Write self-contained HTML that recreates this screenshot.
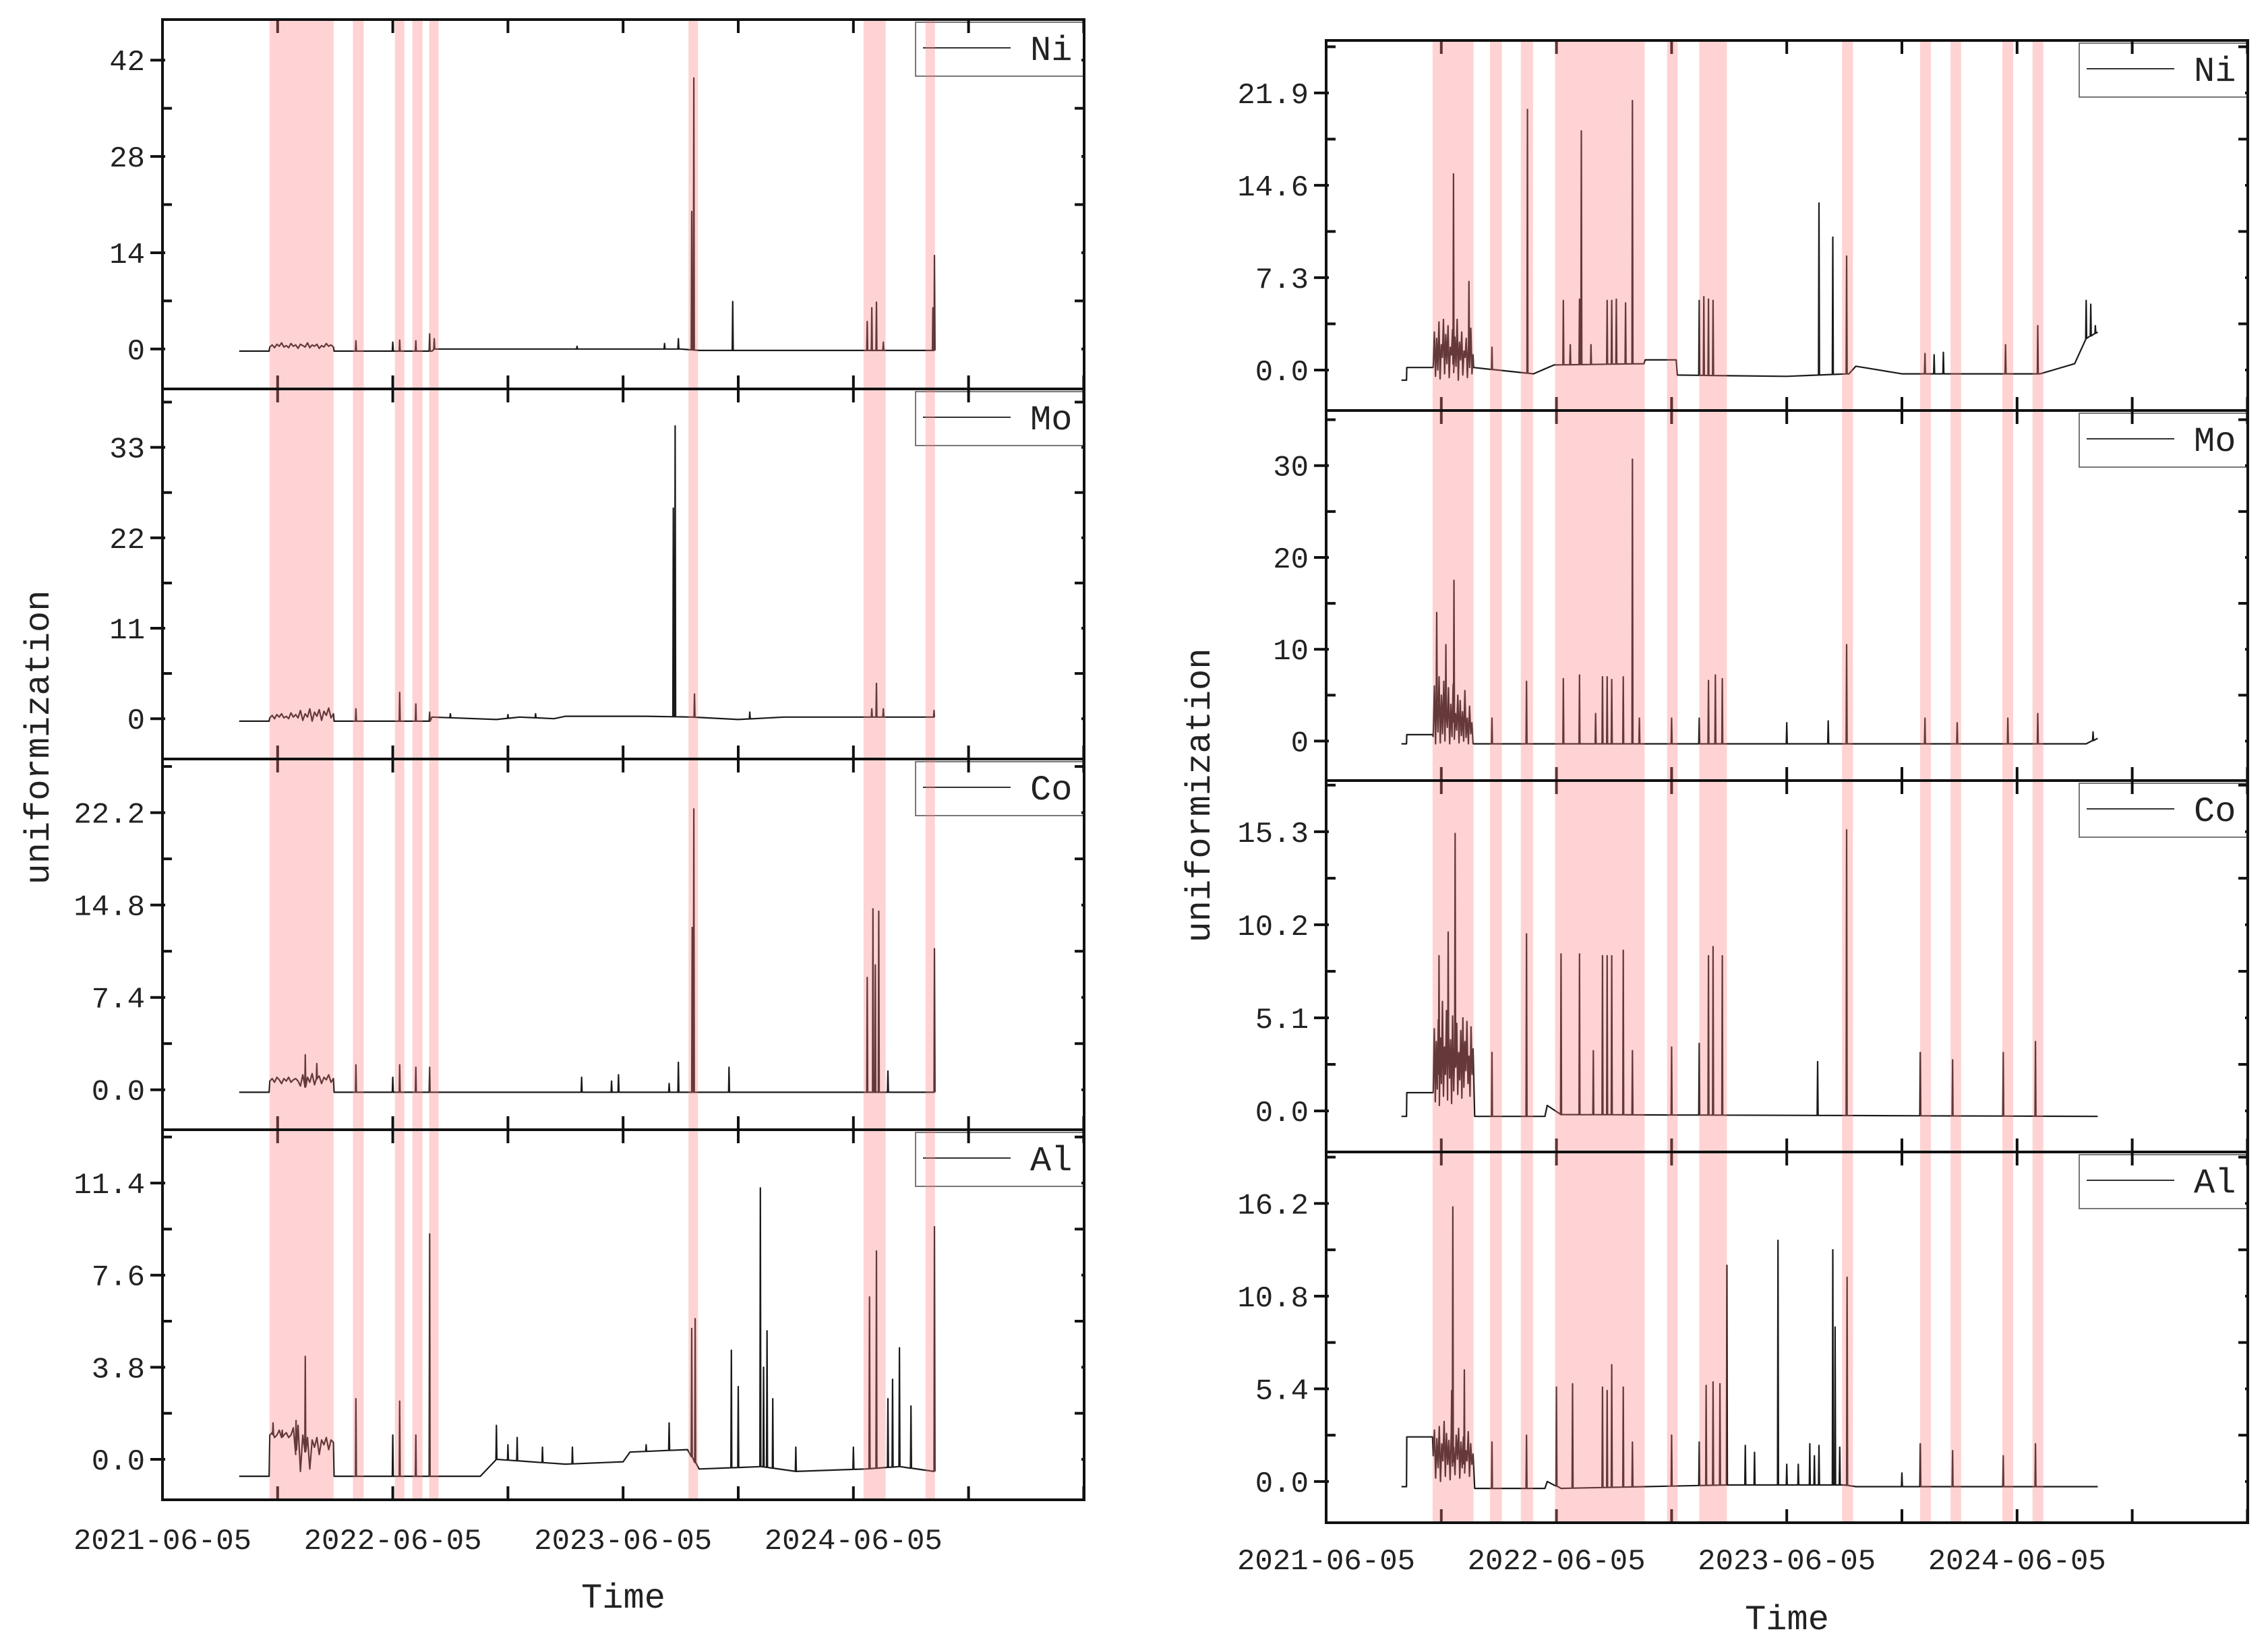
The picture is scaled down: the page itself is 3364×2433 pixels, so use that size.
<!DOCTYPE html>
<html><head><meta charset="utf-8"><style>
html,body{margin:0;padding:0;background:#fff;}
svg{display:block;}
text{font-family:"Liberation Mono","DejaVu Sans Mono",monospace;fill:#222;}
</style></head><body>
<svg id="chart" width="3364" height="2433" viewBox="0 0 3364 2433" xmlns="http://www.w3.org/2000/svg"></svg>
<script>
// ---- data (t = years since 2021-06-05) ----
const xTickLabels = ["2021-06-05","2022-06-05","2023-06-05","2024-06-05"];
const seriesNames = ["Ni","Mo","Co","Al"];
const leftBands = [[0.465,0.743],[0.827,0.874],[1.009,1.050],[1.085,1.129],[1.158,1.199],[2.284,2.325],[3.044,3.140],[3.313,3.354]];
const rightBands = [[0.462,0.640],[0.711,0.763],[0.845,0.898],[0.994,1.383],[1.480,1.526],[1.620,1.740],[2.240,2.287],[2.579,2.626],[2.711,2.757],[2.936,2.983],[3.067,3.114]];

const leftNiTicks = [0,14,28,42];
const leftMoTicks = [0,11,22,33];
const leftCoTicks = ["0.0","7.4","14.8","22.2"];
const leftAlTicks = ["0.0","3.8","7.6","11.4"];
const rightNiTicks = ["0.0","7.3","14.6","21.9"];
const rightMoTicks = [0,10,20,30];
const rightCoTicks = ["0.0","5.1","10.2","15.3"];
const rightAlTicks = ["0.0","5.4","10.8","16.2"];

// noisy stretches: [start, end] and evenly spaced sample values
const leftNoiseRange = [0.466,0.742];
const rightNoiseRange = [0.465,0.638];
const leftNiNoise = [0.3,0.6,0.2,0.7,0.4,0.9,0.3,0.5,0.2,0.8,0.4,0.6,0.1,0.7,0.5,0.3,0.9,0.2,0.6,0.4,0.7,0.1,0.5,0.3,0.8,0.4,0.6,0.3];
const leftMoNoise = [0.1,0.4,0.0,0.5,0.2,0.6,0.1,0.3,0.0,0.7,0.2,0.5,0.1,1.0,-0.2,0.6,0.2,1.2,-0.3,0.8,0.3,1.1,-0.2,0.9,0.4,1.3,0.1,0.6];
const leftCoNoise = [0.7,0.9,0.6,1.0,0.8,0.5,0.9,0.7,1.0,0.6,0.8,0.9,0.7,0.3,1.2,0.2,1.0,0.6,1.3,0.4,0.9,1.1,0.5,1.0,0.8,1.2,0.6,0.9];
const leftAlNoise = [1.0,1.1,0.9,1.0,1.2,0.9,1.0,1.1,0.9,1.0,1.3,0.2,1.4,-0.5,1.0,0.3,0.9,-0.4,0.8,0.5,0.9,0.2,0.8,0.6,0.9,0.4,0.8,0.7];
const rightNiNoise = [0.2,3,-0.5,2.5,0,3.8,-0.7,2,1,4,-0.3,2.8,0.5,3.5,-0.6,1.8,1.2,3.2,-0.2,2.6,0.3,4,-0.8,2.2,0.8,3,-0.4,1.5,1.0,2.5,-0.6,2.0,0.2,3.3,-0.3,1.2];
const rightMoNoise = [0.5,6,-0.3,4.5,1,7,-0.2,5,0.8,6.5,0,3.5,1.5,5.8,-0.3,4,0.5,6.2,0.2,3,1.2,5,-0.2,4.4,0.6,3.2,0,5.5,0.4,2.5,-0.3,3.8,0.8,2,-0.3];
const rightCoNoise = [1,4.5,0.5,3.8,1.2,5,0.3,4,1.5,6,0.8,3.5,2,5.5,0.6,4.2,1.8,3.9,0.4,5.2,1.1,3.6,2.4,4.8,0.9,3.2,1.7,4.4,0.7,5.1,1.3,3.8,2.2,4.9,1.5,3,0.8,4.6,2,3.4];
const rightAlNoise = [1.5,3,0.2,2.5,0.8,3.2,0,2.2,1.2,3.5,0.3,2.8,1,2.4,0.1,3,0.9,2,0.4,2.7,1.3,3.1,0.2,2.3,0.8,2.6,0.5,1.8,1.2,2.9,0.3,2.2,1,1.6];

const leftNiBase = [[0.333,-0.3],[0.463,-0.3],[0.466,0.4],[0.742,0.4],[0.745,-0.3],[1.17,-0.3],[1.18,0],[2.25,0],[2.33,-0.2],[3.35,-0.2]];
const leftNiSpikes = [[0.84,1.2],[1.0,1.0],[1.03,1.3],[1.1,1.2],[1.16,2.2],[1.18,1.5],[1.8,0.4],[2.18,0.8],[2.24,1.5],[2.298,20],[2.307,39.4],[2.476,6.9],[3.06,4],[3.08,6],[3.10,6.8],[3.13,1],[3.345,6],[3.352,13.6]];

const leftMoBase = [[0.333,-0.3],[0.463,-0.3],[0.466,0.2],[0.742,0.2],[0.745,-0.3],[1.16,-0.3],[1.17,0.2],[1.45,-0.1],[1.55,0.2],[1.7,0],[1.75,0.3],[2.1,0.3],[2.3,0.2],[2.5,-0.1],[2.7,0.2],[3.0,0.2],[3.35,0.2]];
const leftMoSpikes = [[0.84,1.2],[1.03,3.2],[1.1,1.8],[1.16,0.8],[1.25,0.6],[1.5,0.5],[1.62,0.6],[2.218,25.6],[2.226,35.6],[2.31,3],[2.55,0.8],[3.08,1.2],[3.10,4.3],[3.13,1.2],[3.35,1]];

const leftCoBase = [[0.333,-0.2],[0.463,-0.2],[0.466,0.8],[0.742,0.8],[0.745,-0.2],[3.35,-0.2]];
const leftCoSpikes = [[0.62,2.8],[0.67,2.1],[0.84,2],[1.0,1],[1.03,2],[1.1,1.8],[1.16,1.8],[1.82,1],[1.95,0.7],[1.98,1.2],[2.2,0.5],[2.24,2.2],[2.3,13],[2.307,22.5],[2.46,1.8],[3.06,9],[3.085,14.5],[3.095,10],[3.11,14.3],[3.15,1.5],[3.352,11.3]];

const leftAlBase = [[0.333,-0.7],[0.463,-0.7],[0.466,1.0],[0.742,0.7],[0.745,-0.7],[1.38,-0.7],[1.42,-0.3],[1.45,0],[1.6,-0.1],[1.75,-0.2],[2.0,-0.1],[2.03,0.3],[2.28,0.4],[2.33,-0.4],[2.6,-0.3],[2.75,-0.5],[3.05,-0.4],[3.2,-0.3],[3.35,-0.5]];
const leftAlSpikes = [[0.48,1.5],[0.52,1.2],[0.58,1.6],[0.62,4.25],[0.84,2.5],[1.0,1.0],[1.03,2.4],[1.1,1],[1.16,9.3],[1.45,1.4],[1.5,0.6],[1.54,0.9],[1.65,0.5],[1.78,0.5],[2.1,0.6],[2.2,1.5],[2.298,5.4],[2.313,5.8],[2.47,4.5],[2.5,3],[2.596,11.2],[2.61,3.8],[2.625,5.3],[2.65,2.5],[2.75,0.5],[3.0,0.5],[3.07,6.7],[3.1,8.6],[3.15,2.5],[3.17,3.3],[3.2,4.6],[3.25,2.2],[3.352,9.6]];

const rightNiBase = [[0.327,-0.8],[0.349,-0.8],[0.35,0.2],[0.64,0.2],[0.9,-0.3],[0.99,0.4],[1.38,0.5],[1.385,0.8],[1.52,0.8],[1.525,-0.4],[2.0,-0.5],[2.27,-0.3],[2.3,0.3],[2.5,-0.3],[3.1,-0.3],[3.25,0.5],[3.3,2.5],[3.35,3]];
const rightNiSpikes = [[0.553,15.5],[0.62,7],[0.72,1.8],[0.874,20.6],[1.03,5.5],[1.06,2],[1.1,5.6],[1.108,18.9],[1.15,2],[1.22,5.5],[1.24,5.5],[1.26,5.6],[1.3,5.3],[1.33,21.3],[1.62,5.5],[1.64,5.8],[1.66,5.6],[1.68,5.5],[2.14,13.2],[2.2,10.5],[2.26,9],[2.6,1.3],[2.64,1.2],[2.68,1.4],[2.95,2],[3.09,3.5],[3.3,5.5],[3.32,5.2],[3.34,3.5]];

const rightMoBase = [[0.327,-0.3],[0.349,-0.3],[0.35,0.7],[0.462,0.7],[0.465,-0.3],[3.3,-0.3],[3.35,0.3]];
const rightMoSpikes = [[0.48,14],[0.52,10.5],[0.555,17.5],[0.72,2.5],[0.87,6.5],[1.03,6.8],[1.1,7.2],[1.17,3],[1.2,7],[1.22,7],[1.24,6.7],[1.29,7],[1.33,30.7],[1.36,2.5],[1.5,2.5],[1.62,2.5],[1.66,6.6],[1.69,7.2],[1.72,6.8],[2.0,2],[2.18,2.2],[2.26,10.5],[2.6,2.5],[2.74,2],[2.96,2.5],[3.09,3],[3.33,1]];

const rightCoBase = [[0.327,-0.3],[0.349,-0.3],[0.35,1.0],[0.462,1.0],[0.645,-0.3],[0.95,-0.3],[0.96,0.3],[1.02,-0.2],[3.35,-0.3]];
const rightCoSpikes = [[0.49,8.5],[0.53,9.8],[0.56,15.2],[0.72,3.2],[0.87,9.7],[1.02,8.6],[1.1,8.6],[1.16,3.3],[1.2,8.5],[1.22,8.5],[1.24,8.5],[1.29,8.8],[1.33,3.3],[1.5,3.5],[1.62,3.7],[1.66,8.5],[1.68,9],[1.72,8.5],[2.134,2.7],[2.26,15.4],[2.58,3.2],[2.72,2.8],[2.94,3.2],[3.08,3.8]];

const rightAlBase = [[0.327,-0.3],[0.349,-0.3],[0.35,2.6],[0.462,2.6],[0.645,-0.4],[0.95,-0.4],[0.96,0],[1.02,-0.4],[1.74,-0.2],[2.25,-0.2],[2.3,-0.3],[3.35,-0.3]];
const rightAlSpikes = [[0.545,5.3],[0.55,16],[0.6,6.5],[0.72,2.3],[0.87,2.7],[1.0,5.5],[1.07,5.7],[1.2,5.5],[1.22,5.3],[1.24,6.8],[1.29,5.5],[1.33,2.3],[1.5,2.7],[1.62,2.3],[1.65,5.6],[1.68,5.8],[1.71,5.7],[1.74,12.6],[1.82,2.1],[1.86,1.7],[1.962,14.05],[2.0,1],[2.05,1],[2.1,2.2],[2.12,1.5],[2.14,2.1],[2.2,13.5],[2.21,9],[2.23,2],[2.262,11.9],[2.5,0.5],[2.58,2.2],[2.72,1.8],[2.94,1.5],[3.08,2.2]];

// ---- layout ----
const YEAR = 341.6;
const charts = [
  {side:"left", x0:241, x1:1608, tops:[29,577,1126,1676,2225], bands:leftBands, noiseRange:leftNoiseRange,
   labelY:2282, timeY:2367, yLabelX:54, yLabelY:1094,
   panels:[
    {name:"Ni",ymin:-5.8,ymax:47.9,ticks:leftNiTicks,base:leftNiBase,spikes:leftNiSpikes,noise:leftNiNoise},
    {name:"Mo",ymin:-4.9,ymax:40.1,ticks:leftMoTicks,base:leftMoBase,spikes:leftMoSpikes,noise:leftMoNoise},
    {name:"Co",ymin:-3.2,ymax:26.5,ticks:leftCoTicks,base:leftCoBase,spikes:leftCoSpikes,noise:leftCoNoise},
    {name:"Al",ymin:-1.67,ymax:13.6,ticks:leftAlTicks,base:leftAlBase,spikes:leftAlSpikes,noise:leftAlNoise}]},
  {side:"right", x0:1967, x1:3334, tops:[60,609,1158,1709,2259], bands:rightBands, noiseRange:rightNoiseRange,
   labelY:2312, timeY:2399, yLabelX:1776, yLabelY:1180,
   panels:[
    {name:"Ni",ymin:-3.2,ymax:26.05,ticks:rightNiTicks,base:rightNiBase,spikes:rightNiSpikes,noise:rightNiNoise},
    {name:"Mo",ymin:-4.3,ymax:36.0,ticks:rightMoTicks,base:rightMoBase,spikes:rightMoSpikes,noise:rightMoNoise},
    {name:"Co",ymin:-2.25,ymax:18.1,ticks:rightCoTicks,base:rightCoBase,spikes:rightCoSpikes,noise:rightCoNoise},
    {name:"Al",ymin:-2.4,ymax:19.2,ticks:rightAlTicks,base:rightAlBase,spikes:rightAlSpikes,noise:rightAlNoise}]}
];

const NS = "http://www.w3.org/2000/svg";
const svg = document.getElementById("chart");
function mk(tag, attrs, parent){ const e=document.createElementNS(NS,tag); for(const k in attrs) e.setAttribute(k,attrs[k]); (parent||svg).appendChild(e); return e; }
function baseAt(base,t){
  if(t<=base[0][0]) return base[0][1];
  for(let i=1;i<base.length;i++){ if(t<=base[i][0]){ const a=base[i-1],b=base[i]; return a[1]+(b[1]-a[1])*(t-a[0])/(b[0]-a[0]); } }
  return base[base.length-1][1];
}

const defs = mk("defs",{});
charts.forEach((c,ci)=>{
  const g = mk("g",{});
  
  
  const xS = t => c.x0 + t*YEAR;
  const n0 = c.noiseRange[0], n1 = c.noiseRange[1];
  c.panels.forEach((p,pi)=>{
    const top=c.tops[pi], bot=c.tops[pi+1], h=bot-top;
    const yS = v => top + (p.ymax - v)/(p.ymax-p.ymin)*h;
    const cid="clip"+ci+"_"+pi;
    const cp=mk("clipPath",{id:cid},defs); mk("rect",{x:c.x0,y:top,width:c.x1-c.x0,height:h},cp);
    const pg = mk("g",{},g);
    
    
    // series path
    const items=[];
    p.base.forEach(b=>{ if(b[0]<n0 || b[0]>n1) items.push({t:b[0],pts:[[b[0],b[1]]]}); });
    p.noise.forEach((v,i)=>{ const t=n0+(n1-n0)*i/(p.noise.length-1); items.push({t:t,pts:[[t,v]]}); });
    p.spikes.forEach(s=>{
      let b;
      if(s[0]>=n0 && s[0]<=n1){
        const f=(s[0]-n0)/(n1-n0)*(p.noise.length-1); const i=Math.min(Math.floor(f),p.noise.length-2);
        b=p.noise[i]+(p.noise[i+1]-p.noise[i])*(f-i);
      } else b=baseAt(p.base,s[0]);
      items.push({t:s[0],pts:[[s[0]-0.002,b],[s[0],s[1]],[s[0]+0.002,b]]});
    });
    items.sort((a,b)=>a.t-b.t);
    const pts=[]; items.forEach(it=>it.pts.forEach(q=>pts.push(q)));
    const d = pts.map((q,i)=>(i?"L":"M")+xS(q[0]).toFixed(1)+","+yS(q[1]).toFixed(1)).join("");
    const line = mk("path",{d:d,fill:"none",stroke:"#1a1a1a","stroke-width":2.2,"stroke-linejoin":"round","clip-path":"url(#"+cid+")"},pg);
    
    
    // legend
    const lg = mk("g",{},pg);
    
    
    mk("rect",{x:c.x1-250,y:top+4,width:250,height:80,fill:"none",stroke:"#777","stroke-width":2},lg);
    mk("line",{x1:c.x1-239,x2:c.x1-109,y1:top+42,y2:top+42,stroke:"#333","stroke-width":2},lg);
    const lt = mk("text",{x:c.x1-80,y:top+60,"font-size":52},lg); lt.textContent=p.name;
    // y ticks
    const tv = p.ticks.map(Number);
    const step = tv[1]-tv[0];
    for(let v=tv[0]-step/2; v<=p.ymax; v+=step/2){
      if(v<p.ymin) continue;
      const isMajor = Math.abs(((v-tv[0])/step) - Math.round((v-tv[0])/step))<1e-6;
      const y=yS(v);
      mk("line",{x1:c.x0-(isMajor?18:0),x2:c.x0+(isMajor?4:14),y1:y,y2:y,stroke:"#111","stroke-width":4},pg);
      mk("line",{x1:c.x1-(isMajor?4:14),x2:c.x1,y1:y,y2:y,stroke:"#111","stroke-width":4},pg);
    }
    p.ticks.forEach((lab,i)=>{
      const t = mk("text",{x:c.x0-26,y:yS(tv[i])+15,"font-size":44,"text-anchor":"end"},pg);
      
      
      t.textContent=lab;
    });
    // x ticks
    for(let k=0;k<=8;k++){
      const x=xS(k*0.5); const L = 20;
      mk("line",{x1:x,x2:x,y1:bot,y2:bot-L,stroke:"#111","stroke-width":4},pg);
      mk("line",{x1:x,x2:x,y1:top,y2:top+L,stroke:"#111","stroke-width":4},pg);
    }
  });
  // bands on top
  const bg = mk("g",{},g);
  
  
  c.bands.forEach(b=>{
    const r = mk("rect",{x:xS(b[0]),y:c.tops[0],width:xS(b[1])-xS(b[0]),height:c.tops[4]-c.tops[0],fill:"rgb(255,120,120)","fill-opacity":0.33},bg);
    
    
  });
  // frames
  c.panels.forEach((p,pi)=>{
    const fr = mk("rect",{x:c.x0,y:c.tops[pi],width:c.x1-c.x0,height:c.tops[pi+1]-c.tops[pi],fill:"none",stroke:"#111","stroke-width":4},g);
    
    
  });
  xTickLabels.forEach((lab,i)=>{
    const t = mk("text",{x:xS(i),y:c.labelY+16,"font-size":44,"text-anchor":"middle"},g);
    
    
    t.textContent=lab;
  });
  const tt = mk("text",{x:(c.x0+c.x1)/2,y:c.timeY+18,"font-size":52,"text-anchor":"middle"},g);
  
  
  tt.textContent="Time";
  const yt = mk("text",{x:0,y:0,"font-size":52,"text-anchor":"middle",transform:"translate("+(c.yLabelX+18)+","+c.yLabelY+") rotate(-90)"},g);
  
  
  yt.textContent="uniformization";
});
</script>
</body></html>
